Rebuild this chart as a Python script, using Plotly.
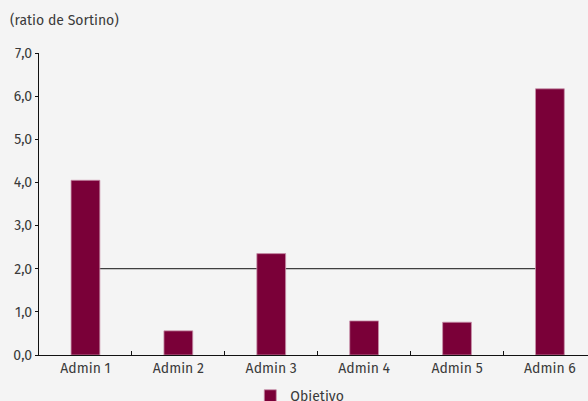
import plotly.graph_objects as go

# Sortino ratio by manager, with the common target level
admins = ["Admin 1", "Admin 2", "Admin 3", "Admin 4", "Admin 5", "Admin 6"]
sortino = [4.05, 0.56, 2.35, 0.79, 0.76, 6.17]
objetivo = 2.0

y_ticks = [0, 1, 2, 3, 4, 5, 6, 7]

bar_color = "#7a0038"
text_color = "#3a3a3a"
bg = "#f4f4f4"

fig = go.Figure()

fig.add_trace(go.Bar(
    x=admins,
    y=sortino,
    name="Objetivo",
    marker=dict(color=bar_color, line=dict(color="#c890aa", width=0.8)),
    width=0.31,
    showlegend=True,
))

# target line drawn beneath the bars, from first to last manager
fig.add_shape(
    type="line",
    xref="x", yref="y",
    x0=0, x1=len(admins) - 1,
    y0=objetivo, y1=objetivo,
    line=dict(color="#111111", width=1),
    layer="below",
)

fig.add_annotation(
    text="(ratio de Sortino)",
    xref="paper", yref="paper",
    x=-0.057, y=1.0, yshift=33,
    xanchor="left", yanchor="middle",
    showarrow=False,
    font=dict(size=14, color=text_color),
)

fig.update_layout(
    width=588, height=401,
    margin=dict(l=39, r=0, t=53, b=46),
    paper_bgcolor=bg,
    plot_bgcolor=bg,
    font=dict(family="Fira Sans, Noto Sans, sans-serif", size=14, color=text_color),
    separators=",.",
    bargap=0.69,
    showlegend=True,
    legend=dict(
        orientation="h",
        xref="paper", x=0.475, xanchor="center",
        yref="container", y=0.012, yanchor="middle",
        bgcolor="rgba(0,0,0,0)",
        font=dict(size=14, color=text_color),
        itemwidth=30,
    ),
)

fig.update_xaxes(
    type="category",
    range=[-0.5, 5.41],
    showline=True, linecolor="#111111", linewidth=1,
    ticks="inside", tickson="boundaries", ticklen=4, tickcolor="#111111",
    showgrid=False, zeroline=False,
    tickfont=dict(size=14, color=text_color),
    automargin=False,
)

fig.update_yaxes(
    range=[0, 7],
    tickvals=y_ticks,
    tickformat=".1f",
    showline=True, linecolor="#111111", linewidth=1,
    ticks="outside", ticklen=3, tickcolor="#111111",
    showgrid=False, zeroline=False,
    tickfont=dict(size=14, color=text_color),
    automargin=False,
)

fig.write_html("out.html")
